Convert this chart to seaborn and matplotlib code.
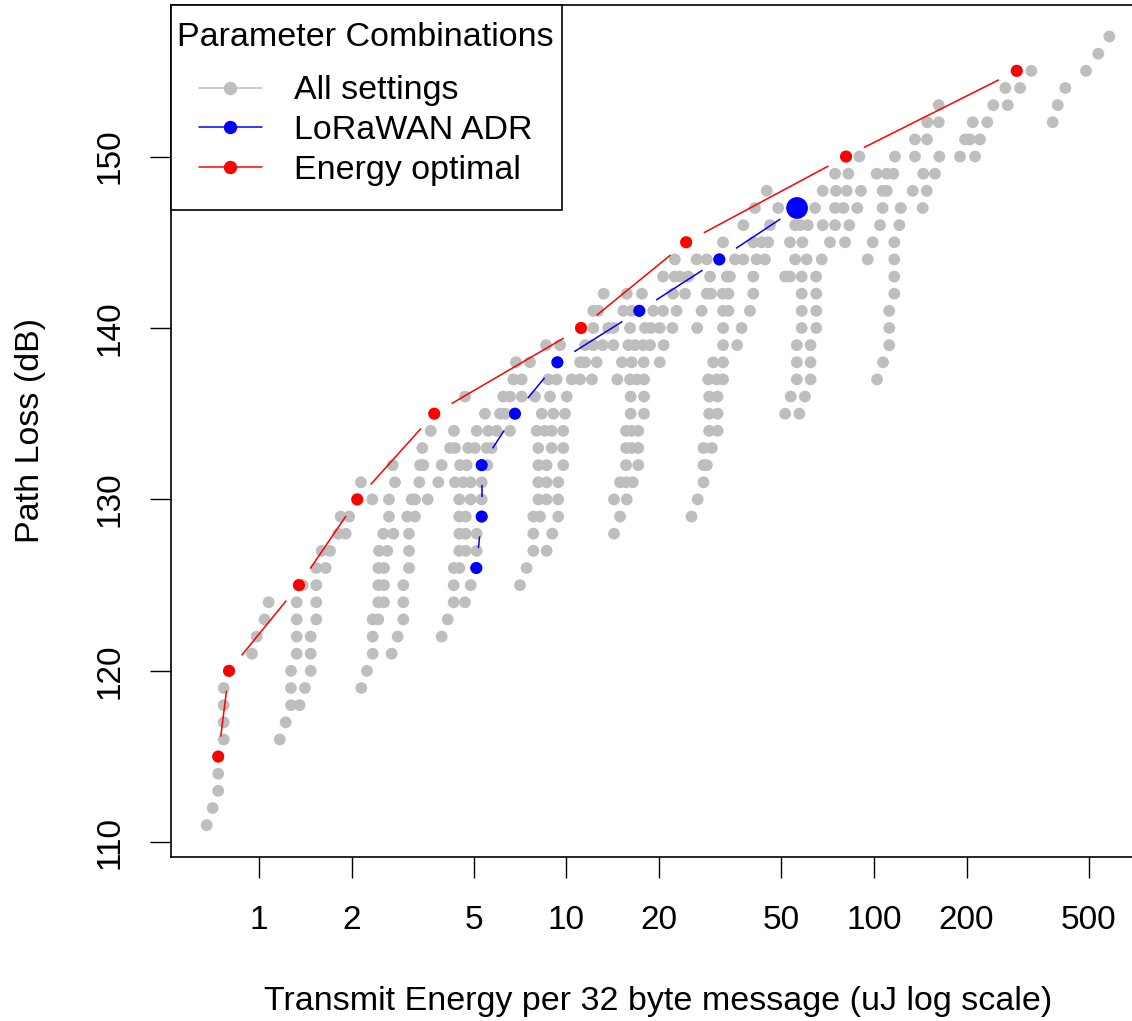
import numpy as np
import pandas as pd
import matplotlib
matplotlib.use("Agg")
import matplotlib.pyplot as plt
import seaborn as sns
from matplotlib.lines import Line2D
from matplotlib.patches import Rectangle
from matplotlib.ticker import FixedLocator, NullLocator, FixedFormatter

# ---------------- data ----------------
path_loss_rows = list(range(111, 158))
energy_rows = [
    [0.676],                                                    # 111
    [0.707],                                                    # 112
    [0.737],                                                    # 113
    [0.737],                                                    # 114
    [0.737],                                                    # 115
    [0.768, 1.168],                                             # 116
    [0.768, 1.221],                                             # 117
    [0.768, 1.271, 1.356],                                      # 118
    [0.768, 1.271, 1.411, 2.151],                               # 119
    [0.799, 1.271, 1.473, 2.245],                               # 120
    [0.949, 1.326, 1.473, 2.343, 2.701],                        # 121
    [0.983, 1.326, 1.473, 2.343, 2.825, 3.927],                 # 122
    [1.043, 1.326, 1.536, 2.343, 2.443, 2.947, 4.108],          # 123
    [1.075, 1.326, 1.536, 2.443, 2.550, 2.947, 4.297, 4.677],   # 124
    [1.349, 1.387, 1.536, 2.443, 2.550, 2.947, 4.297, 4.880, 7.06],   # 125
    [1.536, 1.648, 2.443, 2.550, 3.075, 4.297, 4.481, 5.090, 7.42],   # 126
    [1.599, 1.702, 2.456, 2.614, 3.075, 4.481, 4.701, 5.105, 7.80, 8.62],  # 127
    [1.811, 1.914, 2.536, 2.734, 3.075, 4.481, 4.701, 5.105, 7.80, 8.99, 14.27],  # 128
    [1.844, 1.966, 2.647, 3.036, 3.217, 4.481, 4.701, 5.30, 7.80, 8.20, 9.40,
     14.93, 25.5],                                              # 129
    [2.087, 2.336, 2.647, 3.137, 3.217, 3.537, 4.481, 4.880, 5.30, 8.10, 8.62,
     9.40, 14.27, 15.70, 26.7],                                 # 130
    [2.146, 2.769, 3.321, 3.829, 4.339, 4.618, 4.880, 5.30, 8.10, 8.62, 9.40,
     14.93, 15.62, 16.42, 27.9],                                # 131
    [2.722, 3.339, 3.422, 3.927, 4.505, 4.736, 5.30, 5.527, 8.10, 8.62, 9.76,
     15.62, 17.12, 27.9, 28.6],                                 # 132
    [3.397, 4.179, 4.339, 4.793, 5.04, 5.50, 5.71, 8.10, 8.95, 9.76, 15.62,
     16.29, 17.12, 27.9, 29.7],                                 # 133
    [3.617, 4.306, 5.105, 5.568, 5.93, 6.55, 8.00, 8.51, 8.95, 9.76, 15.62,
     16.29, 17.12, 29.1, 31.0],                                 # 134
    [3.716, 5.43, 6.08, 6.31, 6.80, 8.31, 9.06, 9.89, 16.17, 17.87, 29.1, 31.0,
     51.4, 57.2],                                               # 135
    [4.677, 6.23, 6.55, 7.15, 7.90, 8.84, 10.02, 16.17, 17.87, 29.1, 31.0,
     53.6, 59.6],                                               # 136
    [6.71, 7.15, 8.73, 9.29, 10.40, 11.07, 12.10, 14.63, 16.09, 16.92, 17.87,
     28.9, 30.8, 32.3, 56.1, 62.2, 102.3],                      # 137
    [6.85, 7.61, 9.34, 11.07, 11.49, 12.54, 15.15, 16.29, 17.83, 20.1, 30.0,
     32.3, 56.1, 62.2, 107.0],                                  # 138
    [8.58, 9.53, 11.49, 12.22, 13.10, 14.20, 15.89, 16.70, 17.78, 18.69, 20.7,
     32.3, 35.9, 56.1, 62.2, 112.1],                            # 139
    [11.15, 12.22, 13.67, 14.20, 16.09, 18.00, 18.83, 20.1, 22.1, 26.6, 32.3,
     37.1, 58.2, 64.9, 112.1],                                  # 140
    [12.22, 12.69, 15.30, 16.29, 17.25, 19.15, 20.6, 22.8, 27.5, 32.3, 33.6,
     39.5, 58.2, 64.9, 112.1],                                  # 141
    [13.21, 15.70, 17.60, 22.2, 24.3, 28.6, 29.5, 32.2, 33.6, 40.5, 58.2, 64.9,
     116.4],                                                    # 142
    [20.6, 22.5, 23.4, 24.9, 29.3, 33.2, 34.0, 40.5, 51.4, 53.3, 58.2, 64.8,
     116.4],                                                    # 143
    [22.5, 26.5, 28.6, 31.4, 35.3, 37.6, 41.5, 44.2, 55.4, 60.4, 67.6, 95.4,
     116.4],                                                    # 144
    [24.5, 32.3, 40.5, 43.1, 45.3, 53.3, 58.5, 71.9, 80.5, 99.0, 116.4],  # 145
    [37.6, 45.9, 55.4, 57.5, 60.9, 68.1, 74.7, 83.1, 104.6, 120.9],       # 146
    [41.0, 48.8, 56.2, 64.3, 74.7, 79.5, 88.2, 106.7, 122.2, 144.0],      # 147
    [44.8, 68.1, 75.2, 81.5, 90.7, 106.7, 110.0, 133.6, 148.4],           # 148
    [74.7, 82.5, 102.0, 110.0, 115.6, 144.6, 157.9],                      # 149
    [81.1, 89.6, 117.0, 135.9, 163.1, 190.4, 213.1],                      # 150
    [135.9, 148.8, 197.7, 205.2, 221.1],                                  # 151
    [149.0, 162.4, 209.4, 233.6, 381.1],                                  # 152
    [162.4, 244.3, 272.2, 395.7],                                         # 153
    [267.3, 298.5, 418.9],                                                # 154
    [291.2, 324.8, 489.2],                                                # 155
    [536.3],                                                              # 156
    [582.5],                                                              # 157
]

optimal_path_loss = [115, 120, 125, 130, 135, 140, 145, 150, 155]
optimal_energy = [0.737, 0.799, 1.349, 2.087, 3.716, 11.15, 24.5, 81.1, 291.2]

adr_path_loss = [126, 129, 132, 135, 138, 141, 144, 147]
adr_energy = [5.090, 5.30, 5.30, 6.80, 9.34, 17.25, 31.4, 56.2]

x_ticks = [1, 2, 5, 10, 20, 50, 100, 200, 500]
x_tick_labels = ["1", "2", "5", "10", "20", "50", "100", "200", "500"]
y_ticks = [110, 120, 130, 140, 150]
y_tick_labels = ["110", "120", "130", "140", "150"]

legend_title = "Parameter Combinations"
legend_labels = ["All settings", "LoRaWAN ADR", "Energy optimal"]
x_label = "Transmit Energy per 32 byte message (uJ log scale)"
y_label = "Path Loss (dB)"

GRAY, BLUE, RED = "#BEBEBE", "#0000FF", "#FF0000"

# ---------------- tables ----------------
all_df = pd.DataFrame(
    [(e, pl) for pl, es in zip(path_loss_rows, energy_rows) for e in es],
    columns=["energy", "path_loss"],
)
opt_df = pd.DataFrame({"energy": optimal_energy, "path_loss": optimal_path_loss})
adr_df = pd.DataFrame({"energy": adr_energy, "path_loss": adr_path_loss})

# ---------------- style ----------------
sns.set_theme(style="white")
plt.rcParams["font.family"] = ["Liberation Sans", "DejaVu Sans"]
plt.rcParams["text.color"] = "black"
plt.rcParams["axes.labelcolor"] = "black"
plt.rcParams["xtick.color"] = "black"
plt.rcParams["ytick.color"] = "black"

W, H = 1132, 1021
fig = plt.figure(figsize=(W / 100, H / 100), dpi=100)
ax = fig.add_axes([171 / W, 1 - 856.7 / H, (1145.4 - 171) / W, (856.7 - 5) / H])

ax.set_xscale("log")

sns.scatterplot(data=all_df, x="energy", y="path_loss", color=GRAY, s=72,
                linewidth=0, edgecolor="none", ax=ax, legend=False, zorder=2)

ax.set_xlim(0.5175, 763)
ax.set_ylim(109.16, 158.84)


def gapped_line(df, color, gap_px=20):
    pts = ax.transData.transform(df[["energy", "path_loss"]].to_numpy())
    inv = ax.transData.inverted()
    for p0, p1 in zip(pts[:-1], pts[1:]):
        d = p1 - p0
        L = np.hypot(*d)
        if L <= 2 * gap_px:
            continue
        u = d / L
        seg = inv.transform(np.vstack([p0 + u * gap_px, p1 - u * gap_px]))
        ax.plot(seg[:, 0], seg[:, 1], color=color, lw=1.1, zorder=3,
                solid_capstyle="butt")


gapped_line(opt_df, RED)
gapped_line(adr_df, BLUE)

sns.scatterplot(data=opt_df, x="energy", y="path_loss", color=RED, s=76,
                linewidth=0, edgecolor="none", ax=ax, legend=False, zorder=4)
adr_sizes = [76] * (len(adr_df) - 1) + [245]
ax.scatter(adr_df["energy"], adr_df["path_loss"], color=BLUE, s=adr_sizes,
           linewidths=0, zorder=5)

ax.set_xlim(0.5175, 763)
ax.set_ylim(109.16, 158.84)

# ---------------- axes ----------------
ax.xaxis.set_major_locator(FixedLocator(x_ticks))
ax.xaxis.set_major_formatter(FixedFormatter(x_tick_labels))
ax.xaxis.set_minor_locator(NullLocator())
ax.yaxis.set_major_locator(FixedLocator(y_ticks))
ax.yaxis.set_major_formatter(FixedFormatter(y_tick_labels))
ax.yaxis.set_minor_locator(NullLocator())

ax.tick_params(axis="both", which="major", direction="out", length=15,
               width=1.0, color="black", labelcolor="black", labelsize=24,
               bottom=True, left=True)
ax.tick_params(axis="x", pad=20)
ax.tick_params(axis="y", pad=18)
for lab in ax.get_yticklabels():
    lab.set_rotation(90)
    lab.set_va("center")

for sp in ax.spines.values():
    sp.set_visible(True)
    sp.set_color("black")
    sp.set_linewidth(1.2)

ax.set_xlabel(x_label, fontsize=24.5, color="black")
ax.set_ylabel(y_label, fontsize=24.5, color="black")
ax.xaxis.set_label_coords(0.5, -0.152)
ax.yaxis.set_label_coords(-0.128, 0.5)
ax.grid(False)

# ---------------- legend ----------------
legend_frame = Rectangle((0, 1 - (210 - 5) / (856.7 - 5)),
                         (562 - 171) / (1145.4 - 171), (210 - 5) / (856.7 - 5),
                         transform=ax.transAxes, facecolor="white",
                         edgecolor="black", linewidth=1.2, zorder=6,
                         clip_on=False)
ax.add_patch(legend_frame)

handles = [
    Line2D([0], [0], color=GRAY, marker="o", markersize=8.6, lw=1.1),
    Line2D([0], [0], color=BLUE, marker="o", markersize=8.6, lw=1.1),
    Line2D([0], [0], color=RED, marker="o", markersize=8.6, lw=1.1),
]
leg = ax.legend(handles, legend_labels, title=legend_title, loc="upper left",
                bbox_to_anchor=(-0.004, 0.9918), borderaxespad=0, fontsize=24.5,
                title_fontsize=24.5, frameon=False, handlelength=1.85,
                handletextpad=0.95, labelspacing=0.26, borderpad=0.3)
leg.set_zorder(7)
leg._legend_box.sep = 16

fig.savefig("out.png", dpi=100)
